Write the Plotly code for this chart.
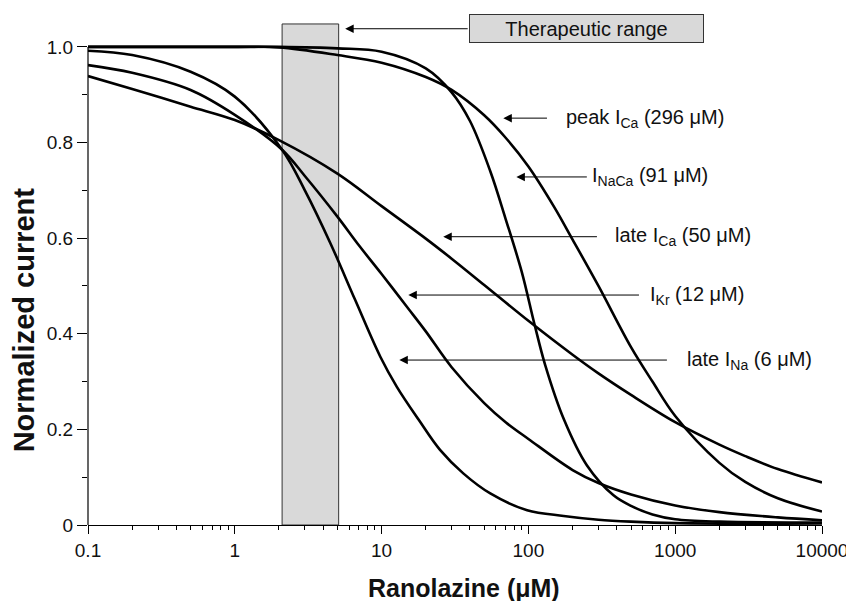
import numpy as np
import plotly.graph_objects as go

# concentration (uM) / normalized current
late_ina_x = [0.1, 0.2, 0.5, 1, 2.1, 3, 4.47, 6.6, 9.8, 12.7, 17.9, 25, 36, 55, 98, 174, 300, 500, 1000, 10000]
late_ina_y = [0.992, 0.983, 0.948, 0.896, 0.785, 0.70, 0.59, 0.471, 0.352, 0.289, 0.22, 0.157, 0.108, 0.066, 0.031, 0.019, 0.011, 0.007, 0.004, 0.003]

ikr_x = [0.1, 0.2, 0.5, 1, 2.1, 3, 5, 7, 10, 15, 20, 30, 50, 70, 100, 200, 300, 500, 1000, 2000, 5000, 10000]
ikr_y = [0.962, 0.946, 0.91, 0.858, 0.785, 0.73, 0.645, 0.585, 0.525, 0.455, 0.405, 0.33, 0.255, 0.215, 0.18, 0.115, 0.088, 0.064, 0.041, 0.027, 0.016, 0.010]

late_ica_x = [0.1, 0.2, 0.5, 1, 2, 5, 10, 20, 30, 50, 100, 200, 300, 500, 1000, 2000, 3000, 5000, 10000]
late_ica_y = [0.939, 0.912, 0.875, 0.847, 0.805, 0.735, 0.667, 0.599, 0.557, 0.502, 0.427, 0.356, 0.317, 0.272, 0.215, 0.168, 0.144, 0.117, 0.089]

inaca_x = [0.1, 1, 2, 5, 10, 20, 30, 40, 55, 70, 90, 110, 130, 175, 250, 380, 500, 700, 1000, 2000, 10000]
inaca_y = [1.0, 1.0, 1.0, 0.997, 0.99, 0.955, 0.905, 0.845, 0.74, 0.64, 0.53, 0.42, 0.335, 0.22, 0.125, 0.062, 0.04, 0.022, 0.012, 0.007, 0.005]

peak_ica_x = [0.1, 1, 2, 5, 10, 20, 30, 50, 70, 100, 150, 200, 300, 500, 700, 1000, 2000, 3000, 5000, 10000]
peak_ica_y = [1.0, 1.0, 0.999, 0.983, 0.967, 0.937, 0.91, 0.857, 0.81, 0.75, 0.665, 0.597, 0.50, 0.372, 0.30, 0.228, 0.13, 0.09, 0.056, 0.028]

therapeutic_x = [2.1, 5.1]
therapeutic_top = 1.048

# label, arrow tip x, arrow tail x, text x, y
labels = [
    ("peak I<sub>Ca</sub> (296 μM)", 67.5, 137, 176, 0.851),
    ("I<sub>NaCa</sub> (91 μM)", 82.8, 256, 264, 0.728),
    ("late I<sub>Ca</sub> (50 μM)", 26.3, 300, 379, 0.603),
    ("I<sub>Kr</sub> (12 μM)", 15.2, 580, 657, 0.481),
    ("late I<sub>Na</sub> (6 μM)", 13.2, 899, 1175, 0.345),
]

FONT = "Arial, Liberation Sans, sans-serif"
INK = "#111111"

fig = go.Figure()

fig.add_trace(go.Scatter(
    x=[therapeutic_x[0], therapeutic_x[1], therapeutic_x[1], therapeutic_x[0], therapeutic_x[0]],
    y=[0, 0, therapeutic_top, therapeutic_top, 0],
    fill="toself", fillcolor="#d9d9d9", mode="lines",
    line=dict(color="#333333", width=1), hoverinfo="skip", showlegend=False,
))

for xs, ys, name in [
    (late_ina_x, late_ina_y, "late INa"),
    (ikr_x, ikr_y, "IKr"),
    (late_ica_x, late_ica_y, "late ICa"),
    (inaca_x, inaca_y, "INaCa"),
    (peak_ica_x, peak_ica_y, "peak ICa"),
]:
    fig.add_trace(go.Scatter(
        x=xs, y=ys, mode="lines", name=name, showlegend=False,
        line=dict(color="black", width=2.6, shape="spline", smoothing=1),
    ))

arrow_style = dict(showarrow=True, arrowhead=2, arrowsize=1.7, arrowwidth=1, arrowcolor="black")

annotations = []
for text, tip, tail, tx, y in labels:
    annotations.append(dict(
        x=np.log10(tip), y=y, ax=np.log10(tail), ay=y, axref="x", ayref="y",
        xref="x", yref="y", text="", **arrow_style,
    ))
    annotations.append(dict(
        x=np.log10(tx), y=y, xref="x", yref="y", text=text, showarrow=False,
        xanchor="left", yanchor="middle", font=dict(family=FONT, size=20, color=INK),
    ))

# therapeutic range box and arrow
annotations.append(dict(
    x=np.log10(5.65), y=1.038, ax=np.log10(39.5), ay=1.038, axref="x", ayref="y",
    xref="x", yref="y", text="", **arrow_style,
))
annotations.append(dict(
    x=2.396, y=1.0387, xref="x", yref="y", text="Therapeutic range",
    showarrow=False, xanchor="center", yanchor="middle",
    bgcolor="#d9d9d9", bordercolor="#333333", borderwidth=1,
    width=231, height=25, font=dict(family=FONT, size=20, color=INK),
))

# axis titles
annotations.append(dict(
    x=0.5116, y=-0.1255, xref="paper", yref="paper", text="<b>Ranolazine (μM)</b>",
    showarrow=False, xanchor="center", yanchor="middle",
    font=dict(family=FONT, size=25, color=INK),
))
annotations.append(dict(
    x=-0.087, y=0.408, xref="paper", yref="paper", text="<b>Normalized current</b>",
    showarrow=False, xanchor="center", yanchor="middle", textangle=-90,
    font=dict(family=FONT, size=29, color=INK),
))

# page body adds an 8px offset, so the figure is sized to fill the rest
fig.update_layout(
    width=846, height=593,
    margin=dict(l=80, r=32, t=15, b=76),
    paper_bgcolor="white", plot_bgcolor="white",
    font=dict(family=FONT, size=19, color=INK),
    annotations=annotations,
    shapes=[dict(type="line", xref="paper", yref="y", x0=0, x1=0, y0=0, y1=1.0,
                 line=dict(color="black", width=1.2))],
)

fig.update_xaxes(
    type="log", range=[-1, 4], automargin=False,
    tickvals=[0.1, 1, 10, 100, 1000, 10000],
    ticktext=["0.1", "1", "10", "100", "1000", "10000"],
    ticks="outside", ticklen=8, tickwidth=1.2, tickcolor="black",
    minor=dict(ticks="outside", ticklen=4, tickwidth=1, tickcolor="black", dtick="D1"),
    showline=True, linecolor="black", linewidth=1.2,
    showgrid=False, zeroline=False,
    tickfont=dict(family=FONT, size=19, color=INK),
)

fig.update_yaxes(
    range=[0, 1.05], automargin=False,
    tickvals=[0, 0.2, 0.4, 0.6, 0.8, 1.0],
    ticktext=["0", "0.2", "0.4", "0.6", "0.8", "1.0"],
    ticks="outside", ticklen=10, tickwidth=1.2, tickcolor="black",
    minor=dict(ticks="outside", ticklen=5, tickwidth=1, tickcolor="black", tickvals=[0.1, 0.3, 0.5, 0.7, 0.9]),
    showline=False, showgrid=False, zeroline=False,
    tickfont=dict(family=FONT, size=19, color=INK),
)

fig.write_html("out.html")
